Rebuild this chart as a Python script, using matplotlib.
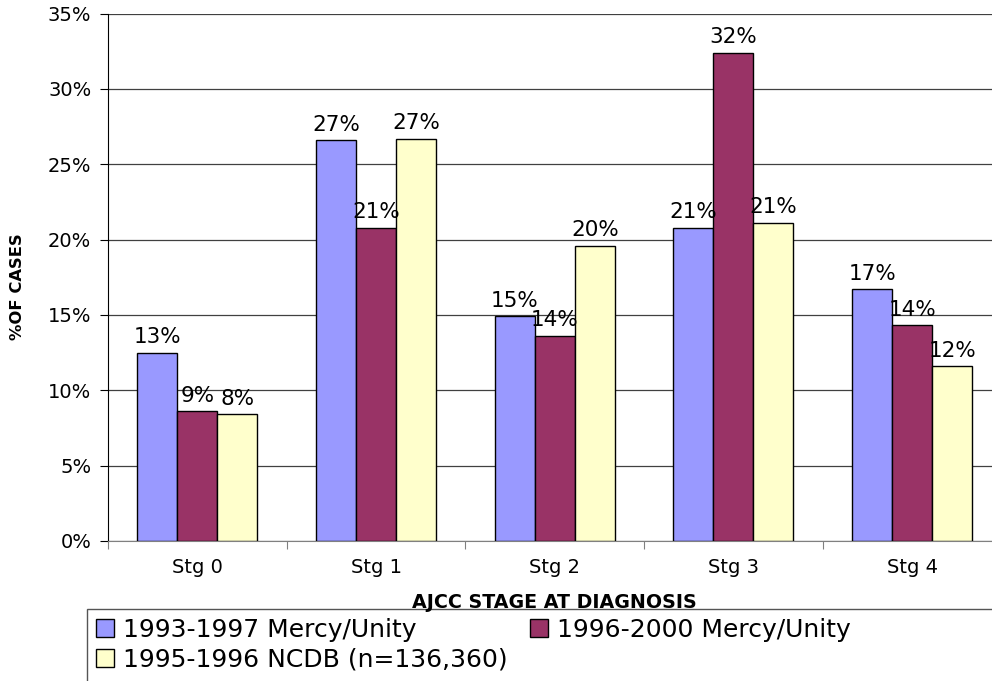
import matplotlib
matplotlib.use("Agg")
import matplotlib.pyplot as plt
import numpy as np
from matplotlib.patches import Rectangle

# ---- data ----
categories = ["Stg 0", "Stg 1", "Stg 2", "Stg 3", "Stg 4"]
series_names = ["1993-1997 Mercy/Unity", "1996-2000 Mercy/Unity", "1995-1996 NCDB (n=136,360)"]
mercy_93_97 = [12.5, 26.6, 14.9, 20.8, 16.7]
mercy_96_00 = [8.6, 20.8, 13.6, 32.4, 14.3]
ncdb_95_96 = [8.4, 26.7, 19.6, 21.1, 11.6]
y_ticks = [0, 5, 10, 15, 20, 25, 30, 35]
x_title = "AJCC STAGE AT DIAGNOSIS"
y_title = "%OF CASES"

colors = ["#9999FF", "#993366", "#FFFFCC"]

W, H = 992, 681
fig = plt.figure(figsize=(W / 100, H / 100), dpi=100)
ax = fig.add_axes([108 / W, 140 / H, 893.5 / W, 527.5 / H])

x = np.arange(len(categories))
bw = 0.224
handles = []
for i, (vals, col, name) in enumerate(zip([mercy_93_97, mercy_96_00, ncdb_95_96], colors, series_names)):
    bars = ax.bar(x + (i - 1) * bw, vals, bw, color=col, edgecolor="black",
                  linewidth=1.0, label=name, zorder=3)
    handles.append(bars)
    for rect, v in zip(bars, vals):
        ax.annotate(f"{int(v + 0.5)}%", (rect.get_x() + rect.get_width() / 2, v),
                    xytext=(0, 4), textcoords="offset points", ha="center", va="bottom",
                    fontsize=15.5, zorder=5)

ax.set_xlim(-0.5, 4.5)
ax.set_ylim(0, 35)
ax.set_yticks(y_ticks)
ax.set_yticklabels([f"{t}%" for t in y_ticks])
ax.yaxis.grid(True, color="#404040", linewidth=0.9, zorder=0)
ax.set_axisbelow(True)

ax.set_xticks(np.arange(-0.5, 5.0, 1.0))
ax.set_xticklabels([])
ax.set_xticks(x, minor=True)
ax.set_xticklabels(categories, minor=True)
ax.tick_params(axis="x", which="major", direction="out", length=6, color="#808080")
ax.tick_params(axis="x", which="minor", length=0, pad=12, labelsize=14)
ax.tick_params(axis="y", direction="out", length=6, pad=6, labelsize=14, color="black")

for s in ["top", "right"]:
    ax.spines[s].set_visible(False)
ax.spines["left"].set_color("black")
ax.spines["bottom"].set_color("#808080")

fig.text(18 / W, 1 - 287 / H, y_title, rotation=90, fontsize=11.8, fontweight="bold",
         ha="center", va="center")
fig.text(554 / W, 1 - 602 / H, x_title, fontsize=13.7, fontweight="bold",
         ha="center", va="center")

# legend frame (extends past the figure edges, as in the reference)
fig.add_artist(Rectangle((87 / W, -0.1), 1.0, (H - 609) / H + 0.1, transform=fig.transFigure,
                         fill=False, edgecolor="#555555", linewidth=1.0))

leg = fig.legend([handles[0], handles[2], handles[1]],
                 [series_names[0], series_names[2], series_names[1]],
                 ncol=2, loc="upper left", bbox_to_anchor=(96 / W, 1 - 618 / H),
                 frameon=False, fontsize=18, handlelength=0.72, handleheight=0.72,
                 handletextpad=0.35, columnspacing=0.9, borderpad=0, borderaxespad=0,
                 labelspacing=0.22)

fig.savefig("out.png", dpi=100)
